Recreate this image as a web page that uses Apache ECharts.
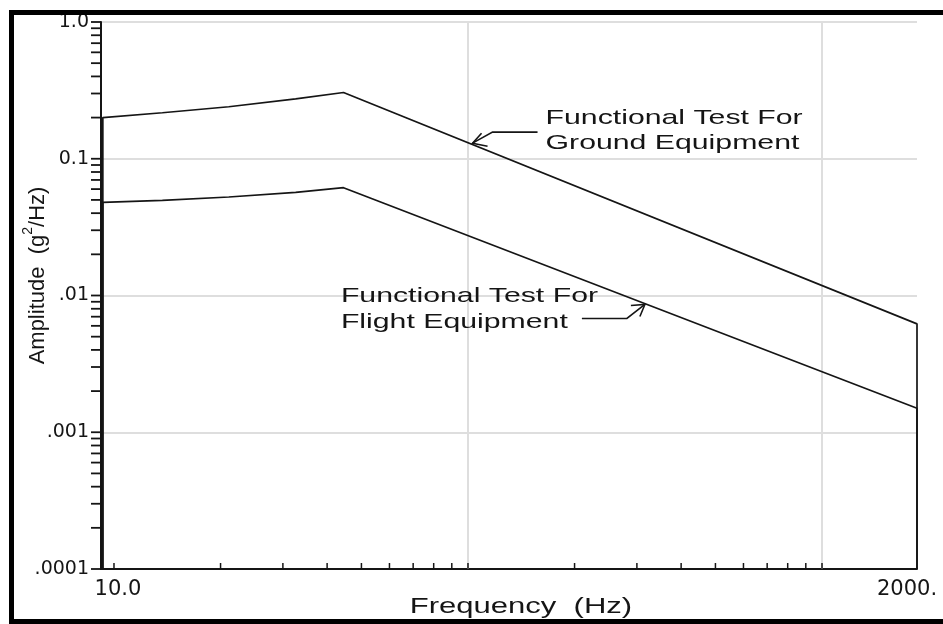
<!DOCTYPE html>
<html><head><meta charset="utf-8">
<script src="https://cdn.jsdelivr.net/npm/echarts@6/dist/echarts.min.js"></script>
<style>html,body{margin:0;padding:0;background:#fff}#c{width:943px;height:624px}</style>
</head><body><div id="c"></div>
<script>
// ---- data ----
const groundFreq = [9.3, 9.3, 13.7, 21.1, 32.6, 44.5, 1855, 1855];
const groundAmp  = [0.0001, 0.2, 0.217, 0.24, 0.274, 0.305, 0.0062, 0.0001];
const flightFreq = [9.3, 9.3, 13.7, 21.1, 32.6, 44.5, 1855, 1855];
const flightAmp  = [0.0001, 0.048, 0.0496, 0.0525, 0.0568, 0.0614, 0.0015, 0.0001];

const xTickValues = [10,20,30,40,50,60,70,80,90,100,200,300,400,500,600,700,800,900,1000];
const yTickValues = [0.0001,0.0002,0.0003,0.0004,0.0005,0.0006,0.0007,0.0008,0.0009,
  0.001,0.002,0.003,0.004,0.005,0.006,0.007,0.008,0.009,
  0.01,0.02,0.03,0.04,0.05,0.06,0.07,0.08,0.09,
  0.1,0.2,0.3,0.4,0.5,0.6,0.7,0.8,0.9,1];
const xGridValues = [100, 1000];
const yTickLabels = {'0':'1.0','-1':'0.1','-2':'.01','-3':'.001','-4':'.0001'};
const xFirstLabel = '10.0';
const xLastLabel = '2000.';
const xAxisName = 'Frequency  (Hz)';
const groundText = ['Functional Test For', 'Ground Equipment'];
const flightText = ['Functional Test For', 'Flight Equipment'];
const groundArrowTip = [103, 0.13];
const flightArrowTip = [316, 0.0086];

const X_MIN = 9.19, X_MAX = 1855, Y_MIN = 0.0001, Y_MAX = 1;
const INK = '#151515';
const LBL = '#151515';
const ARIAL = '"Liberation Sans", Arial, sans-serif';
const DEJAVU = '"DejaVu Sans", sans-serif';

const chart = echarts.init(document.getElementById('c'), null, {renderer: 'canvas'});

const option = {
  animation: false,
  backgroundColor: '#fff',
  grid: {left: 101, right: 26, top: 22, bottom: 55},
  xAxis: {
    type: 'log', logBase: 10, min: X_MIN, max: X_MAX,
    splitLine: {show: false},
    axisTick: {show: false},
    axisLine: {show: true, lineStyle: {color: INK, width: 2}},
    axisLabel: {
      showMinLabel: true, showMaxLabel: true,
      margin: 10, color: LBL, fontFamily: DEJAVU, fontSize: 21,
      formatter: function (v) {
        if (Math.abs(v - 10) < 0.01) return '{f|' + xFirstLabel + '}';
        if (v > 1800) return '{r|' + xLastLabel + '}';
        return '';
      },
      rich: {
        f: {padding: [0, 0, 0, 8], color: LBL, fontFamily: DEJAVU, fontSize: 21},
        r: {padding: [0, 20, 0, 0], color: LBL, fontFamily: DEJAVU, fontSize: 21}
      }
    }
  },
  yAxis: {
    type: 'log', logBase: 10, min: Y_MIN, max: Y_MAX,
    splitLine: {show: true, lineStyle: {color: '#dedede', width: 2}},
    axisTick: {show: false},
    axisLine: {show: true, lineStyle: {color: INK, width: 2}},
    axisLabel: {
      margin: 12, color: LBL, fontFamily: DEJAVU, fontSize: 19,
      formatter: function (v) {
        const k = String(Math.round(Math.log10(v)));
        return yTickLabels[k] !== undefined ? yTickLabels[k] : '';
      }
    }
  },
  series: [
    {
      type: 'custom', silent: true, clip: false, z: 1,
      data: xGridValues.map(v => [v, Y_MIN]),
      renderItem: function (params, api) {
        const p = api.coord([api.value(0), api.value(1)]);
        const top = params.coordSys.y;
        return {type: 'line', shape: {x1: p[0], y1: p[1], x2: p[0], y2: top},
                style: {stroke: '#dedede', lineWidth: 2}};
      }
    },
    {
      type: 'custom', silent: true, clip: false, z: 5,
      data: xTickValues.map(v => [v, Y_MIN]),
      renderItem: function (params, api) {
        const p = api.coord([api.value(0), api.value(1)]);
        return {type: 'line', shape: {x1: p[0], y1: p[1], x2: p[0], y2: p[1] - 6},
                style: {stroke: INK, lineWidth: 1.5}};
      }
    },
    {
      type: 'custom', silent: true, clip: false, z: 5,
      data: yTickValues.map(v => [X_MIN, v]),
      renderItem: function (params, api) {
        const p = api.coord([api.value(0), api.value(1)]);
        return {type: 'line', shape: {x1: p[0] - 10, y1: p[1], x2: p[0], y2: p[1]},
                style: {stroke: INK, lineWidth: 1.8}};
      }
    },
    {
      name: 'Ground', type: 'line', symbol: 'none', clip: false, silent: true, z: 3,
      lineStyle: {color: INK, width: 1.7},
      data: groundFreq.map((f, i) => [f, groundAmp[i]])
    },
    {
      name: 'Flight', type: 'line', symbol: 'none', clip: false, silent: true, z: 3,
      lineStyle: {color: INK, width: 1.7},
      data: flightFreq.map((f, i) => [f, flightAmp[i]])
    }
  ]
};
chart.setOption(option);

const tg = chart.convertToPixel({gridIndex: 0}, groundArrowTip);
const tf = chart.convertToPixel({gridIndex: 0}, flightArrowTip);
const gb = chart.getModel().getComponent('grid', 0).coordinateSystem.getRect();

const lineStyle = {stroke: INK, lineWidth: 1.6, fill: null};
const annFont = '21px ' + ARIAL;
const SX = 1.44;

function txt(x, y, s, sx) {
  return {type: 'text', x: x, y: y, scaleX: sx, z: 50,
          style: {text: s, font: annFont, fill: LBL, align: 'left', verticalAlign: 'middle'}};
}

chart.setOption({
  graphic: [
    // outer frame
    {type: 'rect', z: 100, shape: {x: 11.5, y: 12.5, width: 1000, height: 609},
     style: {stroke: '#000', lineWidth: 5, fill: null}},
    // ground annotation
    txt(tg[0] + 73, tg[1] - 24.5, groundText[0], SX),
    txt(tg[0] + 73, tg[1] + 0.5, groundText[1], SX),
    {type: 'polyline', z: 50, shape: {points: [[tg[0], tg[1]], [tg[0] + 20, tg[1] - 11], [tg[0] + 65, tg[1] - 11]]}, style: lineStyle},
    {type: 'polyline', z: 50, shape: {points: [[tg[0] + 9, tg[1] - 10], [tg[0], tg[1]], [tg[0] + 15, tg[1] + 3]]}, style: lineStyle},
    // flight annotation
    txt(tf[0] - 304, tf[1] - 8, flightText[0], SX),
    txt(tf[0] - 304, tf[1] + 18, flightText[1], SX),
    {type: 'polyline', z: 50, shape: {points: [[tf[0], tf[1]], [tf[0] - 18, tf[1] + 14], [tf[0] - 63, tf[1] + 14]]}, style: lineStyle},
    {type: 'polyline', z: 50, shape: {points: [[tf[0] - 14, tf[1] + 1], [tf[0], tf[1]], [tf[0] - 5, tf[1] + 12]]}, style: lineStyle},
    // x axis name
    {type: 'text', z: 50, x: gb.x + gb.width / 2 + 12, y: 607, scaleX: 1.41,
     style: {text: xAxisName, font: '22px ' + ARIAL, fill: LBL, align: 'center', verticalAlign: 'middle'}},
    // y axis name
    {type: 'text', z: 50, x: 38, y: gb.y + gb.height / 2 - 20, rotation: Math.PI / 2,
     style: {text: 'Amplitude  (g{sup|2}/Hz)', font: '22px ' + ARIAL, fill: LBL, lineHeight: 34,
             align: 'center', verticalAlign: 'middle',
             rich: {sup: {fontSize: 14, fontFamily: ARIAL, fill: LBL, verticalAlign: 'top', lineHeight: 34}}}}
  ]
});
</script>
</body></html>
